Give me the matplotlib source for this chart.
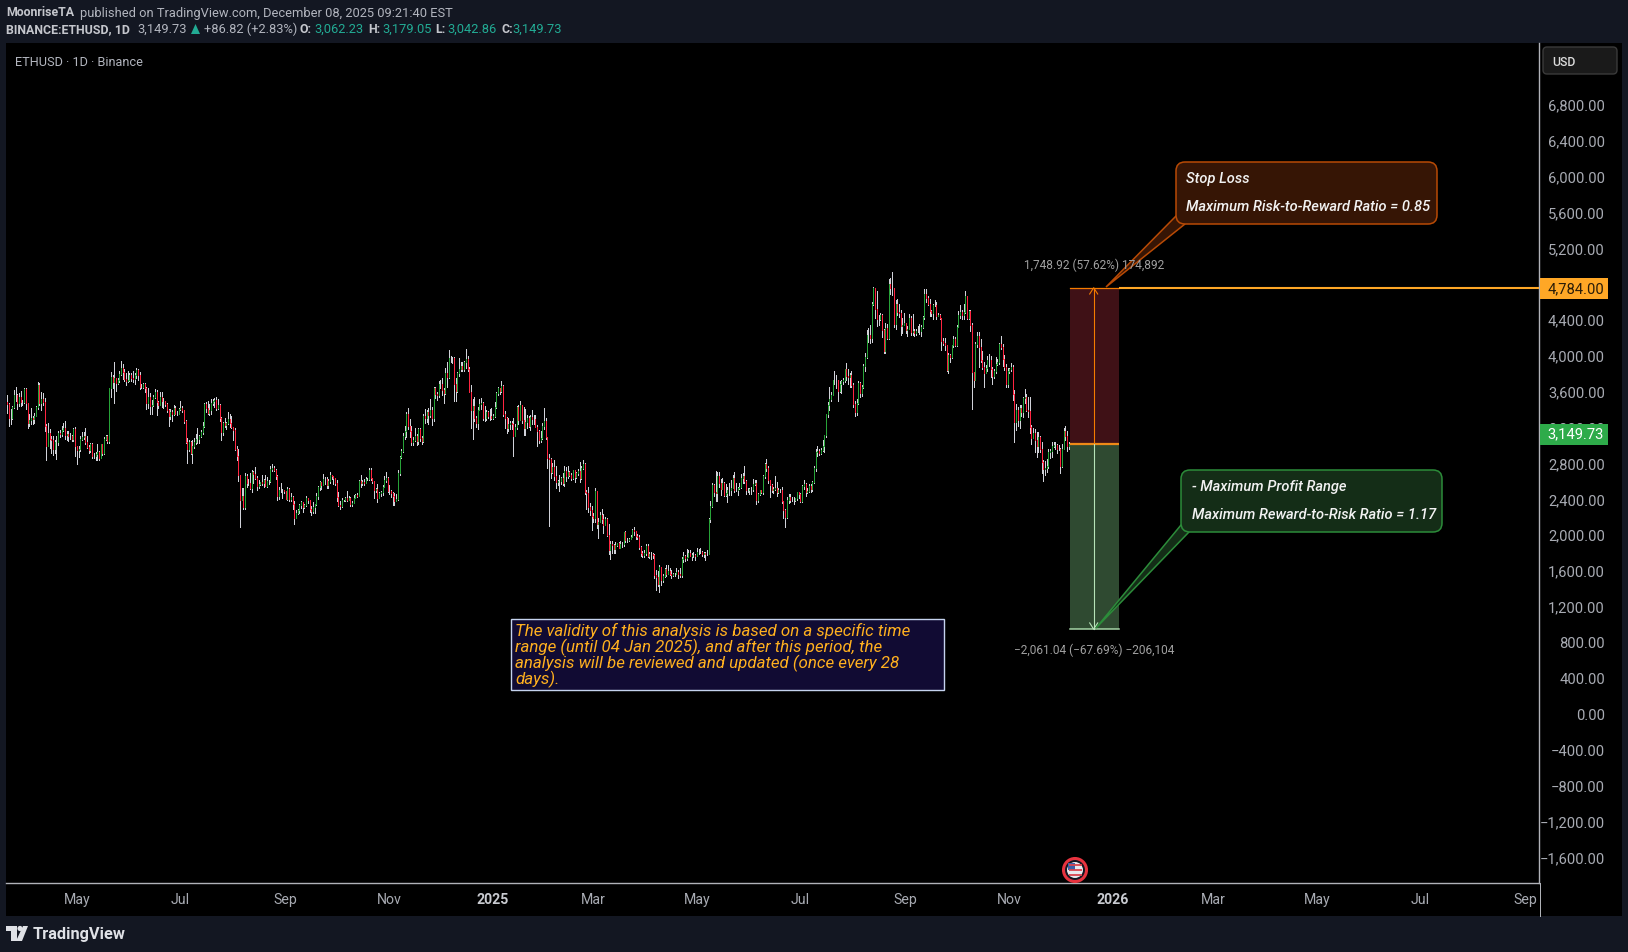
import numpy as np
import pandas as pd
import matplotlib
matplotlib.use('Agg')
import matplotlib.pyplot as plt
import matplotlib.dates as mdates
from matplotlib.patches import Rectangle, FancyBboxPatch, Polygon, Circle
from matplotlib.transforms import ScaledTranslation

W, H = 1628, 952

# daily bars from 2024-03-20, one line per month, open = previous close
first_day = '2024-03-20'
closes = [
3510,3490,3330,3330,3450,3590,3590,3500,3560,3510,3510,3650,
3500,3280,3310,3330,3320,3350,3450,3700,3500,3540,3510,3240,3020,3160,3100,3080,2985,3060,3060,3160,3150,3200,3215,3140,3155,3130,3130,3100,3210,3015,
2970,2990,3100,3115,3135,3065,3005,2975,3035,2910,2910,2930,2950,2880,3035,2945,3095,3125,3070,3660,3790,3735,3780,3725,3750,3825,3890,3840,3765,3745,3760,
3815,3780,3765,3810,3865,3810,3680,3680,3705,3665,3500,3560,3470,3480,3565,3620,3510,3480,3560,3515,3515,3490,3420,3350,3395,3370,3445,3375,3380,3435,
3440,3420,3295,3060,2990,3065,2935,3020,3065,3100,3100,3130,3175,3245,3485,3445,3390,3425,3500,3520,3535,3440,3480,3335,3175,3275,3250,3270,3320,3280,3230,
3200,2985,2905,2690,2420,2460,2340,2680,2600,2610,2555,2725,2705,2660,2570,2590,2615,2610,2640,2575,2630,2625,2765,2770,2745,2680,2455,2530,2530,2525,2515,
2425,2540,2425,2450,2370,2220,2270,2300,2360,2390,2340,2360,2435,2420,2315,2295,2340,2370,2465,2560,2615,2580,2645,2655,2580,2630,2695,2680,2660,2600,
2445,2365,2350,2415,2415,2440,2420,2440,2370,2385,2440,2475,2465,2630,2605,2615,2605,2645,2650,2745,2665,2625,2525,2535,2440,2490,2505,2565,2640,2660,2520,
2515,2495,2460,2400,2425,2720,2895,2965,3125,3185,3370,3245,3185,3060,3090,3130,3075,3205,3105,3070,3355,3330,3395,3360,3415,3330,3660,3595,3590,3705,
3710,3645,3615,3835,3785,4000,3995,4005,3710,3630,3830,3880,3910,3875,3960,3985,3875,3625,3420,3470,3330,3280,3420,3490,3500,3330,3335,3400,3350,3355,3330,
3355,3450,3610,3660,3635,3685,3380,3325,3220,3265,3280,3265,3135,3225,3455,3310,3475,3310,3215,3285,3330,3240,3340,3320,3320,3230,3190,3080,3110,3245,3295,
3115,2880,2870,2730,2785,2685,2620,2630,2630,2660,2600,2735,2680,2725,2695,2660,2745,2670,2715,2740,2660,2770,2815,2510,2495,2335,2305,2235,
2220,2520,2150,2175,2245,2200,2140,2200,2020,1860,1925,1910,1865,1910,1935,1885,1925,1930,2055,1965,1965,1980,2005,2080,2065,2010,2005,1895,1825,1805,1820,
1905,1795,1815,1815,1805,1580,1555,1475,1670,1520,1565,1645,1595,1625,1590,1575,1585,1590,1615,1585,1580,1755,1795,1770,1785,1820,1795,1800,1800,1795,
1840,1840,1835,1810,1820,1810,1810,2200,2345,2585,2510,2495,2680,2610,2540,2610,2470,2495,2525,2525,2555,2665,2525,2530,2550,2560,2660,2680,2630,2530,2530,
2535,2540,2590,2610,2420,2480,2525,2510,2680,2815,2770,2640,2580,2525,2540,2545,2510,2525,2525,2405,2300,2225,2415,2445,2420,2420,2420,2435,2505,2485,
2405,2570,2590,2510,2515,2570,2540,2615,2770,2950,2960,2945,2970,3015,3140,3370,3475,3545,3590,3755,3760,3755,3630,3710,3745,3750,3875,3800,3790,3810,3700,
3490,3395,3500,3720,3610,3680,3910,4010,4260,4260,4225,4600,4780,4550,4440,4430,4475,4310,4075,4335,4225,4830,4780,4780,4380,4600,4510,4505,4360,4370,4390,
4310,4325,4450,4295,4305,4275,4305,4305,4305,4345,4460,4715,4670,4605,4525,4500,4590,4590,4470,4480,4450,4195,4165,4150,3870,4035,4010,4140,4215,4145,
4350,4485,4510,4485,4515,4690,4450,4525,4365,3840,3750,4155,4245,4125,3980,3895,3830,3890,3980,3980,3875,3800,3855,3935,3950,4155,4120,3985,3905,3710,3850,
3875,3905,3600,3285,3425,3310,3440,3400,3555,3565,3420,3410,3230,3110,3165,3090,3020,3115,2990,2835,2765,2770,2800,2950,2960,3020,3030,3025,2990,2985,
2800,2990,3190,3135,3015,3045,3062.23,3149.73,
]
highs = [
3530,3590,3500,3430,3470,3640,3680,3600,3610,3630,3530,3660,
3670,3500,3370,3440,3350,3390,3460,3730,3720,3620,3610,3555,3260,3280,3210,3125,3130,3090,3130,3180,3200,3240,3275,3295,3185,3190,3160,3140,3220,3225,
3020,3020,3130,3170,3170,3220,3125,3030,3055,3050,2945,2950,3040,2960,3040,3040,3120,3145,3145,3670,3840,3810,3950,3760,3780,3860,3970,3930,3880,3830,3850,
3830,3835,3850,3830,3890,3880,3840,3710,3720,3720,3680,3660,3610,3530,3590,3650,3645,3520,3625,3625,3550,3525,3500,3430,3430,3425,3480,3460,3410,3440,
3525,3465,3425,3310,3110,3080,3075,3090,3110,3150,3215,3145,3200,3285,3500,3510,3515,3485,3540,3540,3550,3565,3540,3490,3345,3290,3330,3290,3400,3370,3350,
3220,3215,3020,2990,2700,2555,2550,2720,2710,2645,2720,2750,2740,2785,2680,2640,2620,2690,2650,2700,2670,2640,2800,2820,2790,2760,2700,2560,2600,2540,2530,
2515,2560,2550,2490,2465,2410,2300,2320,2375,2400,2395,2375,2460,2440,2420,2350,2390,2375,2490,2570,2625,2620,2705,2675,2670,2650,2730,2700,2680,2660,
2640,2500,2400,2440,2420,2445,2520,2460,2450,2410,2475,2480,2490,2640,2695,2640,2650,2675,2660,2770,2770,2645,2630,2550,2590,2500,2520,2585,2680,2725,2675,
2585,2525,2500,2490,2480,2745,2910,2980,3160,3245,3400,3440,3320,3240,3120,3220,3150,3220,3215,3125,3370,3435,3420,3445,3540,3450,3680,3680,3620,3740,
3760,3780,3670,3885,3960,4090,4020,4010,4010,3775,3840,3995,3950,3950,3970,4105,4020,3895,3700,3540,3560,3350,3450,3540,3550,3510,3460,3415,3410,3430,3440,
3370,3510,3620,3680,3670,3745,3700,3410,3340,3325,3295,3300,3330,3260,3470,3480,3525,3450,3450,3430,3360,3350,3360,3425,3360,3360,3250,3200,3180,3280,3440,
3330,3120,2925,2885,2830,2860,2800,2640,2690,2670,2720,2800,2780,2790,2740,2720,2755,2750,2730,2760,2840,2790,2860,2830,2530,2560,2385,2345,
2275,2550,2520,2220,2280,2320,2260,2225,2210,2145,1960,1960,1925,1945,1940,1950,1960,1950,2060,2070,1990,1995,2020,2095,2110,2035,2035,2020,1905,1850,1860,
1925,1920,1840,1830,1820,1815,1640,1620,1690,1670,1590,1660,1690,1690,1660,1640,1605,1600,1660,1640,1660,1775,1830,1800,1870,1860,1855,1825,1840,1815,
1875,1870,1875,1845,1835,1830,1860,2210,2400,2600,2590,2735,2730,2730,2650,2660,2620,2590,2560,2610,2635,2695,2730,2600,2560,2600,2710,2720,2790,2640,2545,
2550,2560,2650,2640,2640,2490,2530,2530,2700,2830,2875,2790,2590,2590,2560,2680,2620,2550,2540,2560,2410,2310,2450,2480,2480,2450,2450,2440,2510,2510,
2495,2585,2640,2610,2545,2590,2590,2625,2790,2990,3020,2980,2995,3080,3145,3380,3510,3680,3620,3760,3860,3810,3735,3740,3760,3775,3880,3940,3880,3830,3860,
3720,3515,3540,3740,3730,3700,3930,4060,4310,4330,4370,4620,4790,4785,4750,4475,4500,4490,4320,4390,4380,4880,4890,4956,4780,4650,4660,4600,4530,4450,4500,
4390,4360,4490,4470,4490,4320,4320,4360,4380,4370,4465,4770,4770,4690,4655,4530,4600,4650,4630,4500,4490,4450,4220,4220,4150,4060,4040,4150,4240,4230,
4365,4520,4590,4540,4600,4750,4690,4540,4530,4390,3800,4180,4290,4290,4210,4080,3950,3925,4025,4050,4020,3900,3880,4010,3990,4170,4250,4160,4030,3930,3890,
3890,3940,3920,3640,3490,3450,3480,3480,3570,3650,3600,3560,3560,3250,3220,3210,3170,3170,3130,3065,2860,2850,2870,2980,2990,3060,3060,3060,3040,3030,
3000,3040,3215,3240,3190,3060,3120,3179.05,
]
lows = [
3400,3390,3240,3260,3320,3440,3520,3430,3470,3460,3480,3500,
3430,3220,3240,3260,3260,3280,3350,3435,3480,3420,3480,3190,2860,3020,3000,2940,2920,2940,2870,3030,3120,3130,3180,3100,3090,3070,3100,3070,3070,2910,
2815,2890,2960,3080,3100,3040,2995,2940,2950,2880,2880,2865,2865,2860,2880,2915,2930,3080,3050,3050,3560,3660,3500,3630,3705,3730,3810,3770,3745,3700,3730,
3745,3745,3735,3715,3780,3760,3650,3660,3670,3625,3430,3440,3370,3370,3470,3550,3360,3440,3480,3450,3440,3470,3400,3240,3320,3300,3360,3370,3365,3375,
3420,3400,3270,3050,2830,2960,2930,2830,3000,3045,3050,3050,3115,3150,3230,3400,3370,3360,3380,3480,3450,3415,3435,3300,3085,3145,3230,3210,3260,3230,3215,
3080,2970,2860,2630,2110,2420,2310,2310,2560,2580,2540,2510,2610,2650,2525,2550,2580,2580,2565,2570,2560,2590,2620,2740,2740,2645,2420,2425,2510,2440,2490,
2425,2420,2410,2410,2310,2150,2220,2260,2270,2330,2280,2325,2345,2380,2280,2250,2265,2275,2365,2430,2530,2540,2580,2590,2550,2550,2610,2650,2590,2580,
2410,2350,2310,2340,2405,2405,2410,2415,2350,2350,2380,2435,2450,2460,2565,2585,2580,2600,2640,2640,2640,2600,2440,2500,2395,2440,2465,2470,2560,2620,2510,
2480,2450,2360,2355,2400,2420,2700,2880,2950,3100,3120,3210,3120,3030,3030,3070,3030,3040,3070,3040,3060,3270,3290,3260,3340,3250,3300,3550,3530,3565,
3660,3590,3500,3600,3680,3780,3960,3940,3520,3515,3620,3800,3855,3860,3860,3890,3860,3620,3220,3100,3300,3230,3210,3420,3430,3310,3300,3310,3330,3310,3320,
3320,3340,3440,3590,3600,3620,3350,3220,3160,3190,3210,3210,2910,3125,3210,3265,3310,3270,3140,3140,3220,3225,3200,3260,3260,3225,3020,3050,3060,3100,3210,
3100,2770,2125,2660,2720,2640,2550,2580,2520,2590,2580,2570,2630,2660,2685,2640,2650,2620,2660,2695,2620,2650,2760,2480,2310,2280,2250,2080,
2170,2170,2100,1990,2170,2160,2050,2170,2010,1810,1760,1825,1820,1825,1900,1875,1885,1890,1900,1950,1950,1960,1980,2000,2030,1985,1980,1870,1790,1780,1780,
1800,1780,1770,1760,1770,1540,1410,1460,1385,1470,1500,1560,1570,1590,1580,1550,1565,1565,1585,1540,1560,1560,1720,1730,1745,1785,1790,1745,1775,1745,
1790,1810,1820,1790,1780,1750,1800,1810,2170,2340,2460,2410,2410,2560,2470,2535,2465,2465,2390,2470,2470,2555,2500,2520,2470,2540,2550,2600,2610,2480,2500,
2480,2480,2520,2580,2370,2390,2470,2490,2480,2660,2740,2600,2450,2500,2490,2530,2460,2490,2500,2380,2220,2110,2220,2380,2390,2400,2370,2410,2420,2440,
2395,2390,2540,2460,2490,2500,2510,2520,2600,2740,2910,2915,2925,2965,2950,3120,3340,3425,3520,3590,3710,3670,3520,3620,3610,3710,3730,3760,3710,3680,3680,
3450,3350,3360,3490,3570,3580,3670,3860,4000,4180,4170,4180,4590,4450,4360,4370,4425,4230,4060,4060,4210,4210,4715,4705,4350,4320,4480,4460,4260,4280,4370,
4280,4250,4320,4260,4260,4250,4260,4290,4270,4240,4340,4440,4630,4590,4470,4470,4430,4580,4440,4470,4430,4090,4140,4090,3850,3830,3950,4000,4120,4130,
4130,4345,4450,4440,4440,4500,4430,4440,4300,3435,3680,3750,4120,3900,3950,3880,3680,3840,3850,3910,3790,3710,3780,3830,3920,3930,4100,3910,3870,3680,3680,
3830,3850,3530,3060,3200,3240,3220,3350,3340,3500,3410,3340,3160,3040,3110,2950,2890,2950,2950,2720,2623,2700,2730,2770,2880,2890,3010,2980,2940,2970,
2720,2780,2990,3090,2960,2990,2910,3042.86,
]

price_ticks = [-1600,-1200,-800,-400,0,400,800,1200,1600,2000,2400,2800,3200,3600,4000,4400,4800,5200,5600,6000,6400,6800]
month_ticks = ['2024-05-01','2024-07-01','2024-09-01','2024-11-01','2025-01-01','2025-03-01','2025-05-01','2025-07-01','2025-09-01','2025-11-01','2026-01-01','2026-03-01','2026-05-01','2026-07-01','2026-09-01']
month_labels = ['May','Jul','Sep','Nov','2025','Mar','May','Jul','Sep','Nov','2026','Mar','May','Jul','Sep']

stop_price = 4784.00
entry_price = 3035.08
target_price = 974.04
last_price = 3149.73

BG = '#131722'
GREY = '#a8abb3'
FONT = 'Roboto'

plt.rcParams['font.family'] = [FONT, 'DejaVu Sans']

fig = plt.figure(figsize=(W / 100, H / 100), dpi=100, facecolor=BG)
# black chart panel behind the axes
fig.add_artist(Rectangle((6 / W, 1 - 916 / H), 1616 / W, 873 / H, transform=fig.transFigure,
                         facecolor='black', edgecolor='none', zorder=-5))

ax = fig.add_axes([6 / W, 1 - 883 / H, 1533 / W, 840 / H], facecolor='black')
n = min(len(closes), len(highs), len(lows))
days = mdates.date2num(pd.date_range(first_day, periods=n, freq='D'))
closes = np.array(closes[:n])
highs = np.array(highs[:n])
lows = np.array(lows[:n])
opens = np.r_[closes[0], closes[:-1]]
opens[-1] = 3062.23

ax.vlines(days, lows, highs, colors='#d0d1d8', linewidth=0.72, antialiaseds=False, zorder=2)
body_colors = np.where(closes >= opens, '#27a338', '#ff2440')
ax.vlines(days, opens, closes, colors=body_colors.tolist(), linewidth=0.72, antialiaseds=False, zorder=3)

jan25 = mdates.date2num(pd.Timestamp('2025-01-01'))
px_per_day = 620 / 365
ax.set_xlim(jan25 - (493 - 6) / px_per_day, jan25 + (1539 - 493) / px_per_day)
px_per_usd = 35.85 / 400
zero_y = 716.5
ax.set_ylim((zero_y - 883) / px_per_usd, (zero_y - 43) / px_per_usd)

ax.yaxis.tick_right()
ax.set_yticks(price_ticks)
ax.set_yticklabels([f'{p:,.2f}'.replace('-', '\u2212') for p in price_ticks], ha='right', fontsize=10.6, color=GREY)
ax.tick_params(axis='y', length=0, pad=47.5)
# labels sit a touch above their price level
for lab in ax.get_yticklabels():
    lab.set_transform(lab.get_transform() + ScaledTranslation(0, 2 / 100, fig.dpi_scale_trans))
ax.set_xticks(mdates.date2num(pd.to_datetime(month_ticks)))
ax.set_xticklabels(month_labels, fontsize=10.2, color=GREY)
ax.tick_params(axis='x', length=0, pad=7)
for lab in ax.get_xticklabels():
    if lab.get_text() in ('2025', '2026'):
        lab.set_fontweight('bold')
        lab.set_color('#c8cad0')
for side in ['top', 'left']:
    ax.spines[side].set_visible(False)
ax.spines['bottom'].set_color('#b0b2b8')
ax.spines['right'].set_color('#b0b2b8')
ax.spines['bottom'].set_linewidth(1)
ax.spines['right'].set_linewidth(1)

# long/short position tool
t0 = mdates.date2num(pd.Timestamp('2025-12-06 12:00'))
t1 = t0 + 49 / px_per_day
tc = t0 + 24 / px_per_day
ax.add_patch(Rectangle((t0, entry_price), t1 - t0, stop_price - entry_price, facecolor='#3f1116', edgecolor='none', zorder=4))
ax.add_patch(Rectangle((t0, target_price), t1 - t0, entry_price - target_price, facecolor='#2f4a31', edgecolor='none', zorder=4))
ax.plot([t0, t1], [entry_price, entry_price], color='#ef8a17', lw=1.6, zorder=5, solid_capstyle='butt')
ax.plot([t0, t1], [stop_price, stop_price], color='#f57c00', lw=0.9, zorder=5)
ax.plot([t1, ax.get_xlim()[1]], [stop_price, stop_price], color='#ffa726', lw=1.5, zorder=5, solid_capstyle='butt')
ax.plot([tc, tc], [entry_price, stop_price], color='#f57c00', lw=0.8, zorder=6)
ax.plot([tc, tc], [target_price, entry_price], color='#b6e3b8', lw=0.8, zorder=6)
ax.plot([t0, t1], [target_price, target_price], color='#a5d6a7', lw=1.1, zorder=5)
d = 4 / px_per_day
ax.plot([tc - d, tc, tc + d], [stop_price - 70, stop_price, stop_price - 70], color='#f57c00', lw=0.8, zorder=6)
ax.plot([tc - d, tc, tc + d], [target_price + 70, target_price, target_price + 70], color='#b6e3b8', lw=0.8, zorder=6)

# everything in screen pixels goes on a top layer
ui = fig.add_axes([0, 0, 1, 1], zorder=5)
ui.set_xlim(0, W)
ui.set_ylim(H, 0)
ui.axis('off')

# price scale runs on through the time axis strip
ui.plot([1539.5, 1539.5], [883, 916], color='#b0b2b8', lw=0.72)

ui.text(1094, 265, '1,748.92 (57.62%) 174,892', color='#a0a0a0', fontsize=8.6, ha='center', va='center')
ui.text(1094, 650, '\u22122,061.04 (\u221267.69%) \u2212206,104', color='#a0a0a0', fontsize=8.6, ha='center', va='center')

# header
hsize = 9.25
bsize = 8.95
ui.text(6, 13, 'MoonriseTA', color='#c4c6cc', fontsize=bsize, fontweight='bold', va='center')
ui.text(80, 13, 'published on TradingView.com, December 08, 2025 09:21:40 EST', color='#b2b5be', fontsize=hsize, va='center')
ui.text(6, 29.5, 'BINANCE:ETHUSD, 1D', color='#c4c6cc', fontsize=bsize, fontweight='bold', va='center')
ui.text(137, 29.5, '3,149.73', color='#b2b5be', fontsize=hsize, va='center')
ui.add_patch(Polygon([[191, 34], [200, 34], [195.5, 24]], closed=True, facecolor='#22ab94', edgecolor='none'))
ui.text(204, 29.5, '+86.82 (+2.83%)', color='#b2b5be', fontsize=hsize, va='center')
for lx, vx, lab, val in [(300, 314, 'O:', '3,062.23'), (368, 382, 'H:', '3,179.05'), (435, 447, 'L:', '3,042.86'), (501, 512, 'C:', '3,149.73')]:
    ui.text(lx, 29.5, lab, color='#c4c6cc', fontsize=bsize, fontweight='bold', va='center')
    ui.text(vx, 29.5, val, color='#22ab94', fontsize=hsize, va='center')
ui.text(15, 62, 'ETHUSD \u00b7 1D \u00b7 Binance', color='#b2b5be', fontsize=9.2, va='center')

# usd button
ui.add_patch(FancyBboxPatch((1543, 47), 74, 27, boxstyle='round,pad=0,rounding_size=4', facecolor='#1a1a1a', edgecolor='#3a3a3a', lw=1))
ui.text(1552, 62, 'USD', color='#dcdcdc', fontsize=8.8, va='center', fontweight='medium')

# price tags
ui.add_patch(Rectangle((1540, 278), 68, 21, facecolor='#ffa726', edgecolor='none'))
ui.text(1604, 289, f'{stop_price:,.2f}', color='#2a1c08', fontsize=10.6, ha='right', va='center')
ui.add_patch(Rectangle((1540, 424), 68, 21, facecolor='#2eab4a', edgecolor='none'))
ui.text(1604, 434.5, f'{last_price:,.2f}', color='white', fontsize=10.6, ha='right', va='center')


def callout(x0, y0, x1, y1, tail, face, edge, lines, tx, ys):
    ui.add_patch(Polygon(tail, closed=True, facecolor=face, edgecolor=edge, lw=1.1))
    ui.add_patch(FancyBboxPatch((x0, y0), x1 - x0, y1 - y0, boxstyle='round,pad=0,rounding_size=9',
                                facecolor=face, edgecolor=edge, lw=1.1))
    for line, y in zip(lines, ys):
        ui.text(tx, y, line, color='#f2f2f2', fontsize=10.5, style='italic', fontweight='medium', va='center')


callout(1176, 162, 1437, 224, [[1176, 216], [1185, 224], [1106, 287]], '#361505', '#b84a05',
        ['Stop Loss', 'Maximum Risk-to-Reward Ratio = 0.85'], 1186, [179, 207])
callout(1181, 470, 1442, 532, [[1181, 525], [1189, 532], [1096, 628]], '#142d17', '#2c8c3a',
        ['- Maximum Profit Range', 'Maximum Reward-to-Risk Ratio = 1.17'], 1192, [487, 515])

# note box
ui.add_patch(Rectangle((511, 619), 433, 71, facecolor='#110b33', edgecolor='#c5d3ef', lw=1))
note_lines = ['The validity of this analysis is based on a specific time',
              'range (until 04 Jan 2025), and after this period, the',
              'analysis will be reviewed and updated (once every 28',
              'days).']
for i, line in enumerate(note_lines):
    ui.text(515, 631 + i * 16, line, color='#ffb01f', fontsize=12.2, style='italic', va='center')

# flag marker
ui.add_patch(Circle((1075, 870), 11.5, facecolor='#131722', edgecolor='#e8333f', lw=2.2))
ui.add_patch(Circle((1075, 870), 8, facecolor='#e9e9ee', edgecolor='none'))
for sy in [865, 870, 875]:
    ui.plot([1068.5, 1081.5], [sy, sy], color='#d9434e', lw=1.3, solid_capstyle='butt')
ui.add_patch(Rectangle((1068, 863), 7, 6.5, facecolor='#3c5fa8', edgecolor='none'))

# logo
ui.add_patch(Polygon([[6, 926], [17, 926], [17, 941], [11, 941], [11, 931], [6, 931]], closed=True, facecolor='#dfe1e6', edgecolor='none'))
ui.add_patch(Circle((20, 928.5), 2.6, facecolor='#dfe1e6', edgecolor='none'))
ui.add_patch(Polygon([[23, 926], [28, 926], [22, 941], [16, 941]], closed=True, facecolor='#dfe1e6', edgecolor='none'))
ui.text(33, 934, 'TradingView', color='#dfe1e6', fontsize=11.8, fontweight='bold', va='center')

fig.savefig('out.png', dpi=100, facecolor=fig.get_facecolor())
